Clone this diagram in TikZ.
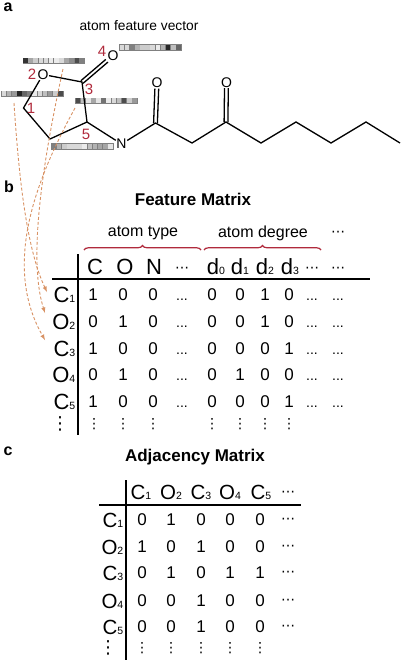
\documentclass[tikz,border=0pt]{standalone}
\usepackage{fontspec}
\setmainfont{Liberation Sans}
\newfontfamily\dotsfont{DejaVu Sans}
\usetikzlibrary{decorations.pathreplacing}
\definecolor{numred}{RGB}{176,42,60}
\definecolor{dashorange}{RGB}{216,146,100}
\tikzset{
  bond/.style={line width=1.3pt,black},
  atom/.style={font=\fontsize{14}{14}\selectfont,inner sep=0.5pt},
  atomnum/.style={font=\fontsize{15}{15}\selectfont,text=numred,inner sep=0pt},
  panel/.style={font=\fontsize{16}{16}\selectfont\bfseries,inner sep=0pt},
  heading/.style={font=\fontsize{17}{17}\selectfont\bfseries,inner sep=0pt},
  note/.style={font=\fontsize{16}{16}\selectfont,inner sep=0pt},
  hdr/.style={font=\fontsize{22}{22}\selectfont,inner sep=0pt},
  rowlbl/.style={font=\fontsize{22}{22}\selectfont,inner sep=0pt},
  adjlbl/.style={font=\fontsize{20.5}{20.5}\selectfont,inner sep=0pt},
  cell/.style={font=\fontsize{17}{17}\selectfont,inner sep=0pt},
  hdots/.style={font=\dotsfont\fontsize{14}{14}\selectfont,inner sep=0pt,yshift=-3pt},
  vdotsbig/.style={font=\dotsfont\fontsize{18}{18}\selectfont,inner sep=0pt},
  vdotssmall/.style={font=\dotsfont\fontsize{14}{14}\selectfont,inner sep=0pt},
  rule/.style={line width=1.4pt,black},
  pick/.style={dash pattern=on 3pt off 2pt,line width=0.9pt,dashorange,-latex},
  brak/.style={line width=1.2pt,numred,decorate,decoration={brace,amplitude=4.5pt,aspect=0.5}}
}
% one feature vector: left end, top, grey levels of the twelve cells
\newcommand{\featbar}[3]{
  \fill[black!50] (#1,#2) rectangle ++(62.5,6.5);
  \foreach \g [count=\i from 0] in {#3}
    \fill[black!\g!white] (#1+0.7+5.13*\i,#2+0.9) rectangle ++(4.6,4.7);
}
\newcommand{\sublbl}[2]{#1{\fontsize{10.5}{10.5}\selectfont #2}}
\begin{document}
\begin{tikzpicture}[x=1pt,y=-1pt]
\useasboundingbox (0,0) rectangle (400,662);
\node[panel] (pa) at (8,7) {a};
\node[panel] (pb) at (9,187) {b};
\node[panel] (pc) at (8,451) {c};
\node[font=\fontsize{13.8}{13.8}\selectfont,inner sep=0pt] (vec) at (139,26) {atom feature vector};

% feature vectors
\featbar{22.5}{57.5}{80,35,20,15,15,8,8,15,35,45,70,50}
\featbar{119}{44}{15,15,50,30,20,20,15,8,30,85,25,60}
\featbar{1}{90.5}{15,30,40,85,60,50,8,15,25,40,20,70}
\featbar{75}{97.5}{70,25,10,35,10,55,8,15,25,70,20,40}
\featbar{51}{143}{50,30,20,15,15,15,8,25,30,35,35,10}

% molecule
\node[atom] (o2) at (43,74.5) {O};
\node[atom] (o4) at (113,55.5) {O};
\node[atom] (n) at (121.5,144) {N};
\node[atom] (o6) at (157,83) {O};
\node[atom] (o7) at (226.5,82.5) {O};
\coordinate (c1) at (23.5,108);
\coordinate (c0) at (50,139);
\coordinate (c5) at (87,122);
\coordinate (c3) at (82,82);
\coordinate (c6) at (155.5,123);
\coordinate (c7) at (192,143);
\coordinate (c8) at (226,122);
\coordinate (c9) at (261,143);
\coordinate (c10) at (296,122);
\coordinate (c11) at (331,143);
\coordinate (c12) at (366,122);
\coordinate (c13) at (400,143);
\draw[bond] (o2) -- (c1) -- (c0) -- (c5) -- (c3) -- (o2);
\draw[bond] (c5) -- (n) -- (c6) -- (c7) -- (c8) -- (c9) -- (c10) -- (c11) -- (c12) -- (c13);
\draw[bond,transform canvas={xshift=-1.1pt,yshift=1.3pt}] (c3) -- (o4);
\draw[bond,transform canvas={xshift=1.1pt,yshift=-1.3pt}] (c3) -- (o4);
\draw[bond,transform canvas={xshift=-1.9pt}] (c6) -- (o6);
\draw[bond,transform canvas={xshift=1.9pt}] (c6) -- (o6);
\draw[bond,transform canvas={xshift=-1.9pt}] (c8) -- (o7);
\draw[bond,transform canvas={xshift=1.9pt}] (c8) -- (o7);
\node[atomnum] (n1) at (31,108) {1};
\node[atomnum] (n2) at (32,74) {2};
\node[atomnum] (n3) at (89,89) {3};
\node[atomnum] (n4) at (102,51) {4};
\node[atomnum] (n5) at (86,134) {5};

% feature matrix
\node[heading] (ftitle) at (193,199) {Feature Matrix};
\coordinate (b1) at (84,250);
\coordinate (b2) at (201,250);
\coordinate (b3) at (204,250);
\coordinate (b4) at (321,250);
\draw[brak] (b1) -- (b2);
\draw[brak] (b3) -- (b4);
\node[note] (ttype) at (143,233) {atom type};
\node[note] (tdeg) at (263,233) {atom degree};
\node[hdots] (tmore) at (338,231) {⋯};
\foreach \t/\x in {C/95,O/125,N/154}
  \node[hdr] (fh\t) at (\x,267) {\t};
\foreach \t/\x in {0/216,1/240,2/265,3/290}
  \node[hdr] (fhd\t) at (\x,267) {\sublbl{d}{\t}};
\foreach \x/\nm in {182/a,312/b,338/c}
  \node[hdots] (fhm\nm) at (\x,267) {⋯};
\coordinate (fl) at (52,279);
\coordinate (fr) at (370,279);
\coordinate (ft) at (78,254);
\coordinate (fb) at (78,435);
\draw[rule] (fl) -- (fr);
\draw[rule] (ft) -- (fb);
\foreach \t/\n/\y in {C/1/295,O/2/322,C/3/348.5,O/4/375,C/5/402}
  \node[rowlbl,anchor=east] (fr\n) at (75.5,\y) {\sublbl{\t}{\n}};
\foreach \y [count=\r] /\vals in {295/{1,0,0,2,0,0,1,0,2,2},322/{0,1,0,2,0,0,1,0,2,2},348.5/{1,0,0,2,0,0,0,1,2,2},375/{0,1,0,2,0,1,0,0,2,2},402/{1,0,0,2,0,0,0,1,2,2}}
  \foreach \v [count=\c] in \vals {
    \pgfmathsetmacro{\cx}{{93,123,153,182,212,240,265,289,312,338}[\c-1]}
    \ifnum\c=4 \def\gap{1}\else\ifnum\c>8 \def\gap{1}\else\def\gap{0}\fi\fi
    \ifnum\gap=1
      \node[cell] (f\r-\c) at (\cx,\y+5) {\fontsize{14}{14}\selectfont...};
    \else
      \node[cell] (f\r-\c) at (\cx,\y) {\v};
    \fi
  }
\node[vdotsbig] (fvl) at (60,424) {⋮};
\foreach \x [count=\c] in {94,123,153,212,240,265,289}
  \node[vdotssmall] (fv\c) at (\x,424) {⋮};

% picks from the vectors to the rows
\coordinate (s1) at (14,103);
\coordinate (s2) at (63,69);
\coordinate (s3) at (75,108);
\draw[pick] (s1) .. controls (19,180) and (27,250) .. (47,292);
\draw[pick] (s2) .. controls (42,165) and (28,260) .. (45,313);
\draw[pick] (s3) .. controls (30,190) and (5,270) .. (45,340);

% adjacency matrix
\node[heading] (atitle) at (195,457) {Adjacency Matrix};
\foreach \t/\n/\x in {C/1/141,O/2/171,C/3/201,O/4/230,C/5/261}
  \node[adjlbl] (ah\n) at (\x,492) {\sublbl{\t}{\n}};
\node[hdots] (ahm) at (288,491) {⋯};
\coordinate (al) at (99,505);
\coordinate (ar) at (301,505);
\coordinate (at) at (126,480);
\coordinate (ab) at (126,660);
\draw[rule] (al) -- (ar);
\draw[rule] (at) -- (ab);
\foreach \t/\n/\y in {C/1/520,O/2/547,C/3/573,O/4/601,C/5/627}
  \node[adjlbl,anchor=east] (ar\n) at (123.5,\y) {\sublbl{\t}{\n}};
\foreach \y [count=\r] /\vals in {520/{0,1,0,0,0},547/{1,0,1,0,0},573/{0,1,0,1,1},601/{0,0,1,0,0},627/{0,0,1,0,0}} {
  \foreach \v [count=\c] in \vals {
    \pgfmathsetmacro{\cx}{{142,171,201,230,260}[\c-1]}
    \node[cell] (a\r-\c) at (\cx,\y) {\v};
  }
  \node[hdots] (am\r) at (288,\y-2) {⋯};
}
\node[vdotsbig] (avl) at (108,648) {⋮};
\foreach \x [count=\c] in {142,171,201,230,260}
  \node[vdotssmall] (av\c) at (\x,648) {⋮};
\end{tikzpicture}
\end{document}
